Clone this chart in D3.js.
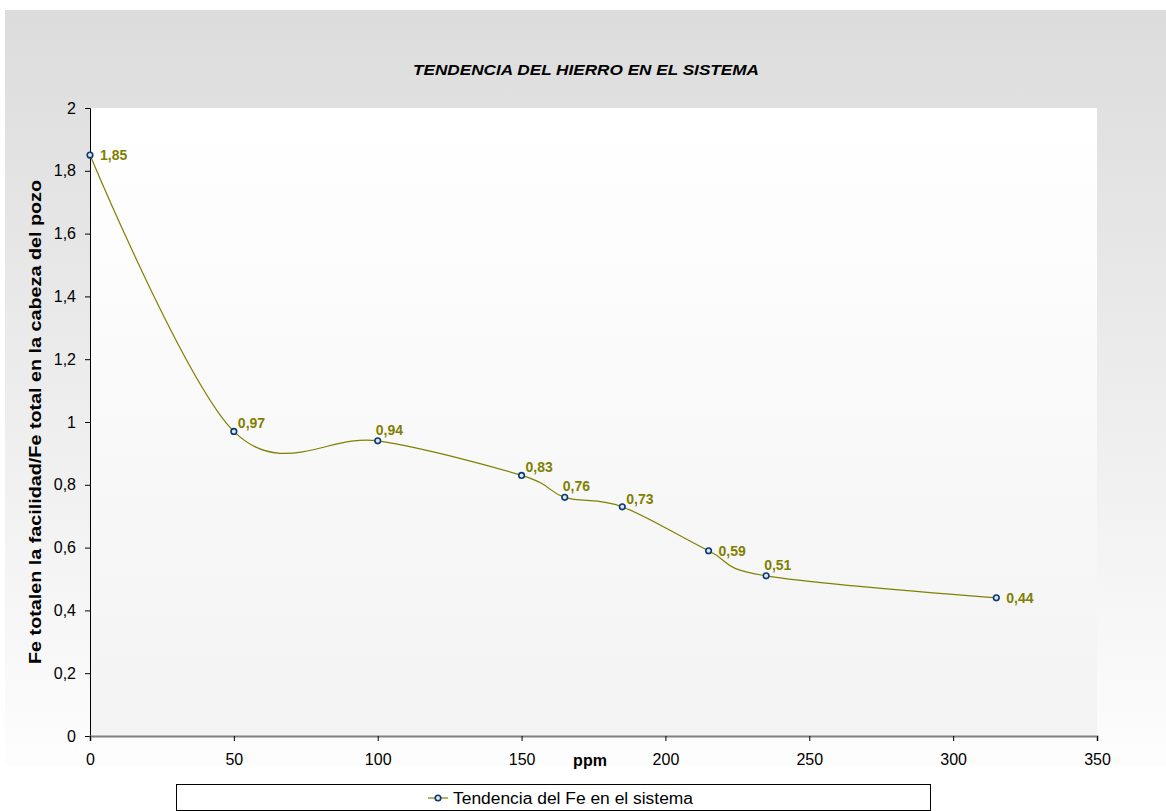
<!DOCTYPE html>
<html>
<head>
<meta charset="utf-8">
<script src="https://cdn.jsdelivr.net/npm/d3@7"></script>
<style>
  html, body { margin: 0; padding: 0; background: #ffffff; }
  svg { display: block; font-family: Arial, "Liberation Sans", sans-serif; }
</style>
</head>
<body>
<svg id="chart" width="1166" height="811"></svg>
<script>
// Iron trend data (ppm vs. Fe ratio)
const ppm = [0, 50, 100, 150, 165, 185, 215, 235, 315];
const feRatio = [1.85, 0.97, 0.94, 0.83, 0.76, 0.73, 0.59, 0.51, 0.44];
const valueLabels = ["1,85", "0,97", "0,94", "0,83", "0,76", "0,73", "0,59", "0,51", "0,44"];
const xTicks = [0, 50, 100, 150, 200, 250, 300, 350];
const yTicks = [0, 0.2, 0.4, 0.6, 0.8, 1, 1.2, 1.4, 1.6, 1.8, 2];
const seriesName = "Tendencia del Fe en el sistema";
const chartTitle = "TENDENCIA DEL HIERRO EN EL SISTEMA";
const yTitle = "Fe totalen la facilidad/Fe total en la cabeza del pozo";
const xTitle = "ppm";
// where each value label sits relative to its point
const labelSide = ["right", "aboveRight", "above", "aboveRight", "above", "aboveRight", "right", "above", "right"];

const svg = d3.select("#chart");
const defs = svg.append("defs");

const outerGrad = defs.append("linearGradient").attr("id", "outerGrad")
  .attr("x1", 0).attr("y1", 0).attr("x2", 0).attr("y2", 1);
outerGrad.append("stop").attr("offset", "0%").attr("stop-color", "#dcdcdc");
outerGrad.append("stop").attr("offset", "100%").attr("stop-color", "#fdfdfd");

const plotGrad = defs.append("linearGradient").attr("id", "plotGrad")
  .attr("x1", 0).attr("y1", 0).attr("x2", 0).attr("y2", 1);
plotGrad.append("stop").attr("offset", "0%").attr("stop-color", "#ffffff");
plotGrad.append("stop").attr("offset", "100%").attr("stop-color", "#f3f3f3");

// chart area background
svg.append("rect").attr("x", 5).attr("y", 10).attr("width", 1161).attr("height", 756)
  .attr("fill", "url(#outerGrad)");

const plot = { left: 90, right: 1097, top: 108, bottom: 736 };
const x = d3.scaleLinear().domain([0, 350]).range([plot.left, plot.right]);
const y = d3.scaleLinear().domain([0, 2]).range([plot.bottom, plot.top]);

svg.append("rect").attr("x", plot.left).attr("y", plot.top)
  .attr("width", plot.right - plot.left).attr("height", plot.bottom - plot.top)
  .attr("fill", "url(#plotGrad)");

// title
svg.append("text").attr("x", 586).attr("y", 75).attr("text-anchor", "middle")
  .attr("font-size", 15).attr("font-weight", "bold").attr("font-style", "italic")
  .attr("textLength", 346).attr("lengthAdjust", "spacingAndGlyphs")
  .attr("fill", "#000").text(chartTitle);

const fmt = d => d3.format("~g")(d).replace(".", ",");

// y axis
const yAxis = d3.axisLeft(y).tickValues(yTicks).tickSize(5).tickPadding(9).tickFormat(fmt);
const gy = svg.append("g").attr("transform", `translate(${plot.left},0)`).call(yAxis);
gy.select(".domain").attr("stroke", "#000").attr("stroke-width", 1);
gy.selectAll(".tick line").attr("stroke", "#000");
gy.selectAll(".tick text").attr("font-size", 16).attr("font-family", "Arial, Liberation Sans, sans-serif").attr("fill", "#000");

// x axis
const xAxis = d3.axisBottom(x).tickValues(xTicks).tickSize(5).tickPadding(13).tickSizeOuter(5);
const gx = svg.append("g").attr("transform", `translate(0,${plot.bottom})`).call(xAxis);
gx.select(".domain").attr("stroke", "#808080").attr("stroke-width", 2);
gx.selectAll(".tick line").attr("stroke", "#000");
gx.selectAll(".tick text").attr("font-size", 16).attr("font-family", "Arial, Liberation Sans, sans-serif").attr("fill", "#000");

// axis titles
svg.append("text").attr("x", 590).attr("y", 766).attr("text-anchor", "middle")
  .attr("font-size", 16).attr("font-weight", "bold").text(xTitle);
svg.append("text")
  .attr("transform", `translate(41,${(plot.top + plot.bottom) / 2}) rotate(-90)`)
  .attr("text-anchor", "middle").attr("font-size", 16).attr("font-weight", "bold")
  .attr("textLength", 484).attr("lengthAdjust", "spacingAndGlyphs")
  .text(yTitle);

// smoothed series line
const pts = ppm.map((p, i) => [p, feRatio[i]]);
const line = d3.line().x(d => x(d[0])).y(d => y(d[1])).curve(d3.curveCardinal.tension(0));
svg.append("path").datum(pts).attr("d", line)
  .attr("fill", "none").attr("stroke", "#808000").attr("stroke-width", 1.2);

// markers
svg.selectAll("circle.pt").data(pts).enter().append("circle").attr("class", "pt")
  .attr("cx", d => x(d[0])).attr("cy", d => y(d[1])).attr("r", 2.8)
  .attr("fill", "#dde4ee").attr("stroke", "#0b3a72").attr("stroke-width", 1.6);

// value labels
const offsets = {
  right: { dx: 10, dy: 5 },
  aboveRight: { dx: 4, dy: -3 },
  above: { dx: -2, dy: -6 }
};
svg.selectAll("text.val").data(pts).enter().append("text").attr("class", "val")
  .attr("x", (d, i) => x(d[0]) + offsets[labelSide[i]].dx)
  .attr("y", (d, i) => y(d[1]) + offsets[labelSide[i]].dy)
  .attr("font-size", 14).attr("font-weight", "bold").attr("fill", "#808000")
  .text((d, i) => valueLabels[i]);

// legend
const lg = svg.append("g");
lg.append("rect").attr("x", 176.5).attr("y", 784.5).attr("width", 754).attr("height", 26)
  .attr("fill", "#ffffff").attr("stroke", "#000").attr("stroke-width", 1);
lg.append("line").attr("x1", 428).attr("x2", 448).attr("y1", 798).attr("y2", 798)
  .attr("stroke", "#808000").attr("stroke-width", 1.2);
lg.append("circle").attr("cx", 438).attr("cy", 798).attr("r", 2.8)
  .attr("fill", "#dde4ee").attr("stroke", "#0b3a72").attr("stroke-width", 1.6);
lg.append("text").attr("x", 453).attr("y", 804).attr("font-size", 16)
  .attr("textLength", 240).attr("lengthAdjust", "spacingAndGlyphs")
  .attr("fill", "#000").text(seriesName);
</script>
</body>
</html>
